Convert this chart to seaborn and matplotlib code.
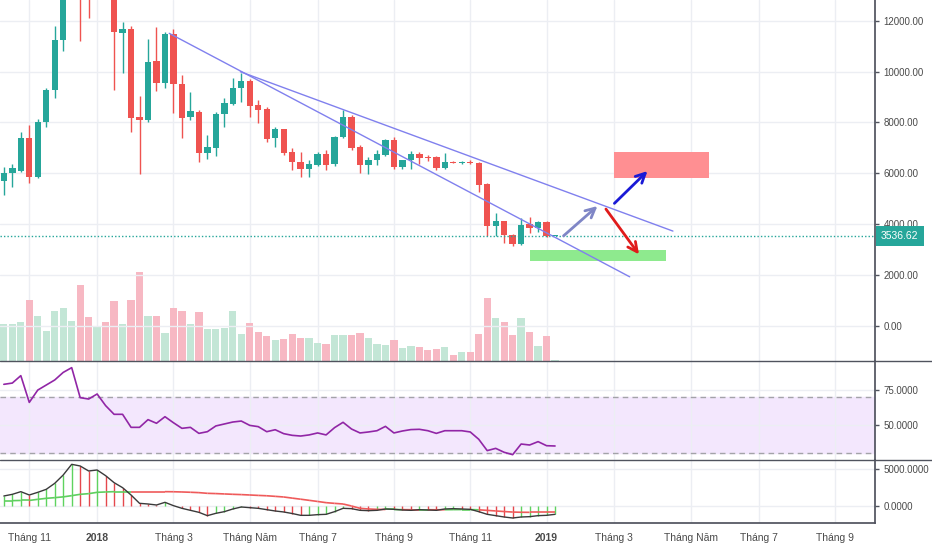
import numpy as np
import pandas as pd
import seaborn as sns
import matplotlib.pyplot as plt
from matplotlib.lines import Line2D
from matplotlib.patches import Rectangle
from matplotlib.collections import LineCollection

# weekly BTC candles, first bar = week of 2017-10-16
opens = [5686, 6000, 6078, 7372, 5843, 8000, 9293, 11253, 15600, 19000,
         13900, 13700, 16200, 13600, 11527, 11684, 8195, 8078, 10430, 9567,
         11488, 9528, 8195, 8430, 6784, 6980, 8352, 8744, 9371, 9646,
         8705, 8548, 7372, 7725, 6823, 6431, 6157, 6314, 6745, 6353,
         7411, 8195, 7019, 6314, 6510, 6706, 7294, 6235, 6510, 6745,
         6627, 6627, 6196, 6431, 6400, 6431, 6392, 5569, 3922, 4118,
         3570, 3200, 4000, 3843, 4078, 3530]
highs = [6235, 6353, 7607, 7882, 8117, 9371, 11802, 17000, 19700, 19200,
         15500, 17200, 17000, 14000, 11958, 11800, 9058, 11292, 11762, 11566,
         11684, 9881, 9214, 8500, 7490, 8400, 8979, 9763, 9959, 9700,
         8901, 8600, 7803, 7760, 6980, 6823, 6510, 6823, 6902, 7450,
         8509, 8274, 7098, 6627, 6902, 7333, 7411, 6540, 6862, 6823,
         6700, 6660, 6784, 6470, 6500, 6510, 6431, 5610, 4432, 4140,
         3600, 4235, 4275, 4118, 4118, 3545]
lows = [5138, 5451, 6060, 5608, 5800, 7803, 8979, 10822, 14900, 11214,
        12099, 12900, 13000, 9276, 9959, 7607, 5960, 8000, 9254, 9371,
        8391, 7372, 8100, 6431, 6549, 6666, 7803, 8700, 8822, 8234,
        7960, 7215, 7019, 6706, 6117, 5843, 5843, 6280, 6117, 6300,
        7380, 6902, 6000, 5960, 6314, 6680, 6157, 6157, 6157, 6353,
        6470, 6117, 6180, 6390, 6360, 6350, 5255, 3530, 3530, 3256,
        3150, 3180, 3648, 3687, 3480, 3525]
closes = [6000, 6196, 7372, 5843, 8000, 9293, 11253, 15600, 19000, 13900,
          13700, 16200, 13600, 11555, 11684, 8156, 8078, 10390, 9567, 11488,
          9528, 8156, 8470, 6784, 7019, 8352, 8783, 9371, 9646, 8666,
          8509, 7333, 7725, 6784, 6431, 6180, 6353, 6745, 6314, 7411,
          8234, 6980, 6314, 6510, 6745, 7294, 6235, 6510, 6745, 6588,
          6588, 6196, 6431, 6400, 6431, 6392, 5530, 3922, 4118, 3570,
          3200, 3961, 3843, 4078, 3536.62, 3536.62]
volume = [37, 37, 39, 61, 45, 30, 50, 53, 40, 76,
          44, 35, 39, 60, 37, 61, 89, 45, 45, 28,
          53, 50, 37, 49, 32, 32, 33, 50, 27, 38,
          29, 25, 21, 22, 27, 23, 23, 18, 17, 26,
          26, 26, 28, 23, 17, 16, 21, 13, 15, 14,
          11, 12, 14, 6, 9, 9, 27, 63, 43, 39,
          26, 43, 29, 15, 25, 1]
rsi = [78.7, 79.6, 84.9, 65.8, 74.6, 78.2, 81.8, 87.2, 90.6, 69.2,
       68.2, 71.8, 63.5, 57.3, 57.3, 48.0, 48.0, 53.5, 50.9, 55.6,
       51.3, 47.3, 48.0, 43.7, 44.9, 49.0, 50.4, 51.8, 52.5, 49.4,
       48.5, 44.9, 46.3, 43.5, 42.3, 41.8, 42.6, 44.0, 42.6, 47.8,
       51.6, 46.8, 44.0, 44.7, 45.6, 48.7, 44.0, 45.4, 46.4, 46.6,
       45.6, 43.7, 45.6, 45.6, 45.6, 44.7, 39.5, 31.4, 33.0, 30.2,
       28.5, 36.1, 35.4, 37.8, 34.9, 34.7]
macd = [1370, 1598, 1963, 1507, 1872, 2283, 3105, 4247, 5708, 5480,
        4795, 4932, 4155, 3196, 2511, 1507, 365, 274, 137, 502,
        46, -320, -594, -868, -1324, -1005, -776, -411, -137, -228,
        -320, -502, -685, -820, -1030, -1280, -1279, -1187, -1142, -776,
        -320, -365, -594, -639, -594, -411, -457, -548, -594, -502,
        -548, -594, -411, -365, -411, -457, -776, -1142, -1324, -1507,
        -1644, -1507, -1461, -1324, -1279, -1142]
signal = [731, 731, 760, 760, 913, 1050, 1142, 1250, 1416, 1598,
          1690, 1872, 1920, 1963, 1963, 1963, 1963, 1963, 1963, 1963,
          1950, 1920, 1880, 1830, 1735, 1700, 1650, 1600, 1560, 1507,
          1450, 1400, 1320, 1233, 1080, 930, 776, 620, 457, 360,
          274, 0, -320, -410, -460, -480, -480, -500, -510, -510,
          -510, -520, -510, -500, -490, -490, -520, -600, -680, -760,
          -830, -860, -870, -870, -870, -870]
last_price = 3536.62

first_week = '2017-10-16'
month_starts = ['2017-11-01', '2018-01-01', '2018-03-01', '2018-05-01', '2018-07-01', '2018-09-01',
                '2018-11-01', '2019-01-01', '2019-03-01', '2019-05-01', '2019-07-01', '2019-09-01']
month_labels = ['Tháng 11', '2018', 'Tháng 3', 'Tháng Năm', 'Tháng 7', 'Tháng 9',
                'Tháng 11', '2019', 'Tháng 3', 'Tháng Năm', 'Tháng 7', 'Tháng 9']

# drawings (week index, price)
trend_a = ([19.5, 73.8], [11508, 1925])
trend_b = ([27.9, 78.9], [9996, 3724])
red_zone = (71.9, 83.1, 5823, 6823)
green_zone = (62.0, 78.1, 2555, 2976)
arrows = [((66.0, 3536), (70.0, 4709), '#7f86c6'),
          ((72.0, 4815), (75.9, 6087), '#1a1ad6'),
          ((71.0, 4591), (74.9, 2807), '#e01b1b')]

sns.set_theme(style='white')
plt.rcParams['font.family'] = ['Liberation Sans', 'DejaVu Sans']

o = np.array(opens); h = np.array(highs); l = np.array(lows); c = np.array(closes)
n = len(c)
x = np.arange(n)
weeks = pd.date_range(first_week, periods=120, freq='W-MON')
tick_pos = [int(weeks.searchsorted(pd.Timestamp(m))) for m in month_starts]

up = c >= o
col = np.where(up, '#26a69a', '#ef5350')
vcol = np.where(up, '#c3e6d6', '#f7b8c3')

txt = '#4a4a4a'
grid = '#eceef3'
sep = '#50535e'
fs = 7
W = 875 / 932

fig = plt.figure(figsize=(9.32, 5.5), dpi=100)
ax_vol = fig.add_axes([0, 1 - 360.5 / 550, W, 360.5 / 550])
ax = ax_vol.twinx()
ax_r = fig.add_axes([0, 1 - 460 / 550, W, 99.5 / 550], sharex=ax_vol)
ax_m = fig.add_axes([0, 1 - 523 / 550, W, 63 / 550], sharex=ax_vol)

# volume
ax_vol.bar(x, volume, width=0.86, color=vcol, linewidth=0)
ax_vol.set_ylim(0, 360.5)
ax_vol.set_yticks([])

# candles
ax.vlines(x, l, h, colors=col, linewidth=1, zorder=3)
ax.bar(x, np.maximum(np.abs(c - o), 30), bottom=np.minimum(o, c), width=0.75,
       color=col, linewidth=0, zorder=4)
ax.set_ylim(-1370, 12820)
ax.set_yticks(range(0, 12001, 2000))
ax.set_yticklabels([f'{v:.2f}' for v in range(0, 12001, 2000)])
ax.grid(axis='y', color=grid, linewidth=1)
ax.axhline(last_price, color='#26a69a', linestyle=(0, (1, 1.5)), linewidth=1, zorder=5)

ax.plot(*trend_a, color='#8080ee', linewidth=1, zorder=6)
ax.plot(*trend_b, color='#8080ee', linewidth=1, zorder=6)
for x0, x1, y0, y1, fc in [(*red_zone, '#ff8f92'), (*green_zone, '#8eea8e')]:
    ax.add_patch(Rectangle((x0, y0), x1 - x0, y1 - y0, facecolor=fc, edgecolor='none', zorder=2))
for start, end, ac in arrows:
    ax.annotate('', xy=end, xytext=start,
                arrowprops=dict(arrowstyle='->', color=ac, lw=2, mutation_scale=17,
                                shrinkA=0, shrinkB=0), zorder=7)

ax.annotate(f'{last_price:.2f}', xy=(1, last_price), xycoords=('axes fraction', 'data'),
            xytext=(4.2, 0), textcoords='offset points', ha='left', va='center',
            color='white', fontsize=7.5, annotation_clip=False, zorder=10,
            bbox=dict(boxstyle='square,pad=0.5', facecolor='#26a69a', edgecolor='none'))

# RSI
ax_r.axhspan(30, 70, color='#f3e7fd', zorder=0)
for lvl in (70, 30):
    ax_r.axhline(lvl, color='#a3a3a8', linestyle=(0, (4, 3)), linewidth=1)
sns.lineplot(x=x, y=rsi, ax=ax_r, color='#9126a6', linewidth=1.2)
ax_r.set_ylim(24.7, 95.7)
ax_r.set_yticks([50, 75])
ax_r.set_yticklabels(['50.0000', '75.0000'])
ax_r.grid(axis='y', color=grid, linewidth=1)

# MACD
mc = np.array(macd); sg = np.array(signal)
rising = np.diff(mc, prepend=mc[0] - 1) >= 0
ax_m.vlines(x, 0, mc, colors=np.where(rising, '#5fd35f', '#e5484d'), linewidth=1)
pts = np.column_stack([x, sg])
segs = np.stack([pts[:-1], pts[1:]], axis=1)
ax_m.add_collection(LineCollection(segs, colors=np.where(mc[:-1] >= sg[:-1], '#5fcf5f', '#ef5a5a'),
                                   linewidth=1.2))
sns.lineplot(x=x, y=macd, ax=ax_m, color='#3a3a3a', linewidth=1)
ax_m.set_ylim(-2330, 6300)
ax_m.set_yticks([0, 5000])
ax_m.set_yticklabels(['0.0000', '5000.0000'])
ax_m.grid(axis='y', color=grid, linewidth=1)

ax_vol.set_xlim(-0.454, 102.73)
for a in (ax_vol, ax_r, ax_m):
    a.set_xticks(tick_pos)
    a.grid(axis='x', color=grid, linewidth=1)
    a.set_axisbelow(True)
ax_m.set_xticklabels(month_labels)
for lab in ax_m.get_xticklabels():
    if lab.get_text() in ('2018', '2019'):
        lab.set_fontweight('bold')
ax_vol.tick_params(axis='x', length=0, labelbottom=False)
ax_r.tick_params(axis='x', length=0, labelbottom=False)
ax_m.tick_params(axis='x', length=3, width=1, color=sep, labelsize=7.5, labelcolor=txt, pad=4)

for a in (ax, ax_r, ax_m):
    a.yaxis.tick_right()
    a.tick_params(axis='y', length=3, width=1, color=sep, labelsize=fs, labelcolor=txt, pad=3)
    a.set_xlabel('')
    a.set_ylabel('')

for a in (ax_vol, ax, ax_r, ax_m):
    for s in a.spines.values():
        s.set_visible(False)
for a in (ax, ax_r, ax_m):
    a.spines['right'].set_visible(True)
    a.spines['right'].set_color(sep)
ax_m.spines['bottom'].set_visible(True)
ax_m.spines['bottom'].set_color(sep)

for ypx in (360.5, 460):
    fig.add_artist(Line2D([0, 1], [1 - ypx / 550] * 2, transform=fig.transFigure, color=sep, linewidth=1))

fig.savefig('out.png', dpi=100)
